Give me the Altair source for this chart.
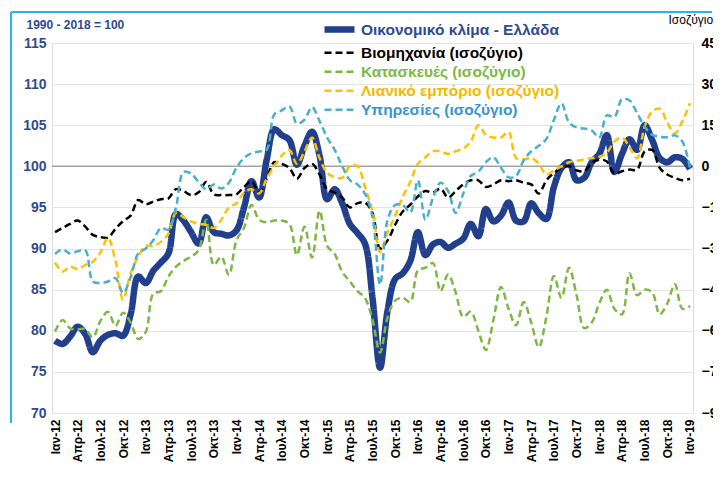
import altair as alt
import pandas as pd

# ---------------- data ----------------
month_abbr = ["Ιαν", "Φεβ", "Μαρ", "Απρ", "Μαϊ", "Ιουν", "Ιουλ", "Αυγ", "Σεπ", "Οκτ", "Νοε", "Δεκ"]
years = ["12", "13", "14", "15", "16", "17", "18"]
months = [f"{m}-{y}" for y in years for m in month_abbr] + ["Ιαν-19"]
tick_labels = months[::3]

series_names = [
    "Οικονομικό κλίμα - Ελλάδα",
    "Βιομηχανία (ισοζύγιο)",
    "Κατασκευές (ισοζύγιο)",
    "Λιανικό εμπόριο (ισοζύγιο)",
    "Υπηρεσίες (ισοζύγιο)",
]
series_colors = ["#213F8C", "#000000", "#7DB843", "#FFC000", "#4BAFCB"]
label_colors = ["#2F4B91", "#000000", "#7DB843", "#F5B800", "#3A93CF"]

# Economic sentiment indicator (left axis, 1990-2018 = 100)
esi = [78.8, 78.4, 79.3, 80.5, 79.6, 77.4, 78.8, 79.5, 79.7, 79.4, 82.0, 86.6,
       85.8, 87.3, 88.3, 89.4, 94.2, 93.4, 92.0, 90.6, 93.8, 92.0, 91.8, 91.6,
       92.2, 95.0, 98.2, 96.2, 100.8, 104.5, 103.8, 103.2, 100.2, 102.5, 104.2, 101.3,
       96.0, 97.2, 95.5, 93.0, 91.9, 90.6, 84.0, 75.5, 82.5, 86.3, 87.0, 88.5,
       92.0, 89.2, 90.5, 90.8, 90.1, 90.6, 91.2, 93.0, 91.5, 94.8, 93.3, 94.0,
       95.6, 93.4, 93.3, 95.5, 94.3, 93.6, 97.5, 99.8, 100.5, 98.3, 98.6, 100.5,
       101.5, 103.8, 99.3, 101.5, 103.3, 102.0, 105.0, 103.2, 101.0, 100.5, 101.1, 100.9,
       99.7]

# Balances (right axis)
industry = [-24, -22.5, -21, -19.8, -22, -25, -25.8, -26, -22.8, -20, -18, -12.3,
            -13.8, -12.9, -12, -11.7, -8.3, -9, -10.5, -9.5, -5.7, -10.2, -10.5, -10.5,
            -10.2, -7.5, -5.4, -9.6, -4.5, 1.5, 0.9, -0.6, -4.5, -0.6, 0.9, -3,
            -8.4, -9.6, -11.4, -15, -13.5, -13.2, -17, -30, -27, -21.3, -16.5, -14,
            -11, -9, -9.6, -8.1, -11.4, -9, -6.6, -5.1, -5.1, -7.5, -6.6, -5.1,
            -5.4, -5.1, -6, -6.6, -9.9, -5.1, -2.4, -0.6, 0, -1.5, -1.8, 1.2,
            2.4, 1.8, -2.7, -1.8, -1.2, -1.2, 5.4, 6, -0.6, -3, -4.2, -5.1,
            -4.5]
construction = [-60.3, -56.1, -59.1, -59.4, -59.4, -62.4, -56.4, -53.1, -58.2, -53.4, -57, -63,
                -60.5, -46.5, -45.6, -40.2, -36.6, -34.5, -33, -30.6, -19.5, -36, -33, -39.6,
                -27, -22.5, -14.1, -19.5, -20.4, -19.8, -19.8, -21, -32.4, -22, -33.3, -16.2,
                -29, -32, -38.5, -42, -45.5, -48, -56, -68, -55, -49, -48, -49.5,
                -38, -37, -35.3, -45.5, -39.5, -46, -55, -53, -60, -67, -56, -44,
                -52, -58, -49.5, -57, -66, -55, -40, -48, -37, -47, -59, -57,
                -50, -45, -52, -54, -39, -47, -45, -46, -54, -50, -43, -52,
                -51]
retail = [-35.1, -38.4, -36.6, -37.5, -36, -34.8, -31.5, -26.1, -34.5, -48.6, -39, -33,
          -29, -29, -27.6, -24.6, -17, -18.6, -20.1, -21, -21.3, -22.5, -19.5, -15,
          -13.5, -9.6, -8.4, -9.9, -4.5, 0, 3.9, 6, 0.9, 5.4, 10.5, 3,
          -2.4, -3.9, -4.2, 0, 0, -7.5, -16.5, -31.2, -24, -18, -11.1, -5.7,
          0.9, 3.3, 5.5, 5.5, 4.5, 5.5, 6.5, 9.0, 15.0, 11.5, 10.5, 10.5,
          12.5, 3.0, 2.5, 3.0, 1.0, -3.0, -1.5, 0.0, 1.5, 2.0, 2.5, 3.0,
          3.5, 5.0, 9.0, 10.5, 7.0, 3.0, 14.5, 20.0, 21.0, 16.0, 12.0, 16.5,
          23.0]
services = [-32, -30.3, -31.8, -31, -30.6, -42, -42.6, -42, -40.8, -46.2, -40.5, -31.8,
            -30, -27, -22.5, -23.1, -15, -2.1, -2.7, -5.7, -8.4, -6.6, -8.1, -6,
            -0.5, 3, 4.8, 5.4, 6, 18.9, 20.4, 21.9, 15.6, 17, 21.6, 16.5,
            10.5, 6, 0, -5, -6.6, -10, -18.6, -43.2, -19.5, -14.1, -14.1, -16.8,
            -5.1, -19.5, -11.5, -6, -9, -17, -10, -3.5, -2, 1.5, 3.3, -0.5,
            -4, -3.5, 2.2, 5.5, 7.5, 10, 17, 23, 16, 14.2, 13.8, 13.1,
            10.5, 18.6, 18.0, 24.5, 24.0, 19.5, 14.5, 11.5, 10.8, 10.6, 11.3, 9.0,
            -0.7]

# ---------------- tables ----------------
esi_df = pd.DataFrame({"month": months, "value": esi, "series": series_names[0]})
bal_df = pd.concat([
    pd.DataFrame({"month": months, "value": vals, "series": name})
    for name, vals in zip(series_names[1:], [industry, construction, retail, services])
], ignore_index=True)

FONT = "Liberation Sans"
BLUE_TXT = "#2F4B8F"

label_expr = ""
for name, col in zip(series_names[:-1], label_colors[:-1]):
    label_expr += f"datum.label == '{name}' ? '{col}' : "
label_expr += f"'{label_colors[-1]}'"

legend = alt.Legend(
    orient="none", legendX=279, legendY=-22, title=None,
    symbolType="M-3,0L3,0", symbolSize=100,
    labelFont=FONT, labelFontSize=15.5, labelFontWeight="bold", labelColor={"expr": label_expr},
    labelOffset=13, rowPadding=2, padding=0, labelLimit=400,
)

color = alt.Color("series:N", scale=alt.Scale(domain=series_names, range=series_colors), legend=legend)
dash = alt.StrokeDash("series:N", scale=alt.Scale(domain=series_names,
                      range=[[1, 0], [7, 4], [7, 4], [7, 4], [7, 4]]), legend=legend)
width = alt.StrokeWidth("series:N", scale=alt.Scale(type="ordinal", domain=series_names,
                        range=[6.5, 2.5, 2.5, 2.5, 2.5]), legend=legend)

x_enc = alt.X(
    "month:N", sort=months, scale=alt.Scale(type="point", padding=0.4),
    axis=alt.Axis(values=tick_labels, labelAngle=-90, title=None, ticks=False, domain=False,
                  labelFont=FONT, labelFontSize=12, labelFontWeight="bold", labelColor="black",
                  labelPadding=6, labelOverlap=False, grid=False),
)

left_axis = alt.Axis(
    values=list(range(70, 116, 5)), title="1990 - 2018 = 100", titleAngle=0,
    titleX=-26, titleY=-19, titleAlign="left", titleBaseline="middle",
    titleFont=FONT, titleFontSize=12, titleFontWeight="bold", titleColor=BLUE_TXT,
    labelFont=FONT, labelFontSize=14, labelFontWeight="bold", labelColor=BLUE_TXT,
    labelPadding=6, ticks=False, domain=False, grid=True, gridColor="#E4E4E4",
)
right_axis = alt.Axis(
    orient="right", values=list(range(-90, 46, 15)), title="Ισοζύγιο", titleAngle=0,
    titleX=-25, titleY=-24, titleAlign="left", titleBaseline="middle",
    titleFont=FONT, titleFontSize=12, titleFontWeight="normal", titleColor="black",
    labelFont=FONT, labelFontSize=14, labelFontWeight="bold", labelColor="black",
    labelPadding=8, ticks=False, domain=False, grid=False,
)
left_scale = alt.Scale(domain=[70, 115], nice=False, zero=False)
right_scale = alt.Scale(domain=[-90, 45], nice=False, zero=False)

line100 = alt.Chart(pd.DataFrame({"v": [100]})).mark_rule(color="#A3A3A3", strokeWidth=1.5).encode(
    y=alt.Y("v:Q", scale=left_scale, axis=left_axis)
)
esi_line = alt.Chart(esi_df).mark_line(interpolate="catmull-rom").encode(
    x=x_enc,
    y=alt.Y("value:Q", scale=left_scale, axis=left_axis),
    color=color, strokeDash=dash, strokeWidth=width,
)
left = alt.layer(line100, esi_line)

bal_lines = alt.Chart(bal_df).mark_line(interpolate="catmull-rom").encode(
    x=x_enc,
    y=alt.Y("value:Q", scale=right_scale, axis=right_axis),
    color=color, strokeDash=dash, strokeWidth=width,
)

frame_df = pd.DataFrame({"k": [0]})
frame_top = alt.Chart(frame_df).mark_rule(color="#2AB4EC", strokeWidth=2).encode(
    x=alt.value(-41), x2=alt.value(660), y=alt.value(-31), y2=alt.value(-31)
)
frame_left = alt.Chart(frame_df).mark_rule(color="#2AB4EC", strokeWidth=2).encode(
    x=alt.value(-41), x2=alt.value(-41), y=alt.value(-31), y2=alt.value(380)
)

chart = alt.layer(left, bal_lines, frame_top, frame_left).resolve_scale(y="independent").properties(
    width=641, height=370,
    padding={"left": 44, "top": 35, "right": 20, "bottom": 49},
    autosize=alt.AutoSizeParams(type="none"),
).configure_view(stroke=None).configure(font=FONT, background="white")

chart.save("out.html", embed_options={"renderer": "svg", "actions": False})
